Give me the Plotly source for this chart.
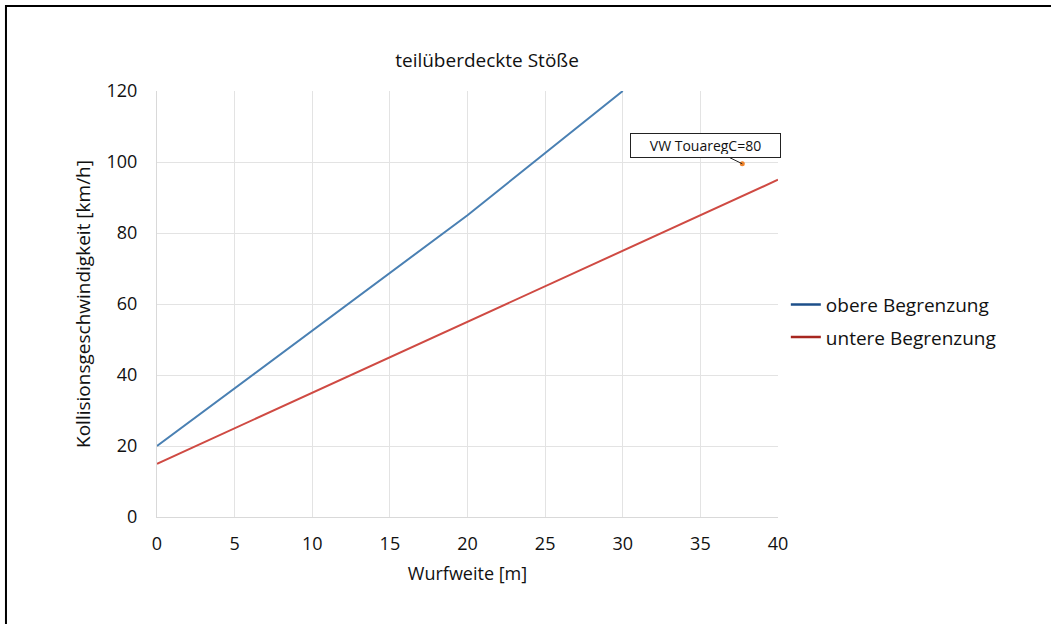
import plotly.graph_objects as go

# Data
upper_x = [0, 20, 30]
upper_y = [20, 85, 120]
lower_x = [0, 40]
lower_y = [15, 95]
point_x = [37.7]
point_y = [99.5]
point_label = "VW TouaregC=80"

FONT = "Open Sans"

fig = go.Figure()
fig.add_trace(go.Scatter(x=upper_x, y=upper_y, mode="lines", line=dict(color="#4a80b3", width=2),
                         showlegend=False, hoverinfo="skip"))
fig.add_trace(go.Scatter(x=lower_x, y=lower_y, mode="lines", line=dict(color="#cf4a43", width=2),
                         showlegend=False, hoverinfo="skip"))
fig.add_trace(go.Scatter(x=point_x, y=point_y, mode="markers", marker=dict(color="#f0852e", size=5),
                         showlegend=False))
# legend entries
fig.add_trace(go.Scatter(x=[None], y=[None], mode="lines", line=dict(color="#1d4f8a", width=2.5),
                         name="obere Begrenzung", legendgroup="a"))
fig.add_trace(go.Scatter(x=[None], y=[None], mode="lines", line=dict(color="#a7261f", width=2.5),
                         name="untere Begrenzung", legendgroup="b"))

fig.add_annotation(x=point_x[0], y=point_y[0], text=point_label, showarrow=True,
                   ax=-37, ay=-18, arrowhead=0, arrowwidth=1, arrowcolor="#222",
                   width=143, height=17,
                   bordercolor="#222", borderwidth=1, borderpad=3, bgcolor="white",
                   font=dict(family=FONT, size=14, color="#111"))

# outer frame
fig.add_shape(type="rect", xref="paper", yref="paper", x0=-0.2432, x1=1.6, y0=-0.6, y1=1.1995,
              line=dict(color="black", width=2), layer="above")

fig.update_layout(
    width=1051, height=624,
    margin=dict(l=157, r=273, t=91, b=107),
    paper_bgcolor="white", plot_bgcolor="white",
    font=dict(family=FONT, color="#111"),
    title=dict(text="teilüberdeckte Stöße", x=487 / 1051, xanchor="center", y=1 - 60 / 624,
               yanchor="middle", font=dict(size=19, color="#111")),
    legend=dict(x=1.0126, y=0.46, xanchor="left", yanchor="middle", font=dict(size=19, color="#111"),
                bgcolor="rgba(0,0,0,0)", tracegroupgap=5, traceorder="grouped"),
    showlegend=True,
)
fig.update_xaxes(range=[0, 40], dtick=5, showgrid=True, gridcolor="#e3e3e3", gridwidth=1,
                 zeroline=False, showline=True, linecolor="#d9d9d9", ticks="",
                 ticklabelstandoff=10,
                 tickfont=dict(size=18, color="#111"),
                 title=dict(text="Wurfweite [m]", font=dict(size=18, color="#111"), standoff=13))
fig.update_yaxes(range=[0, 120], dtick=20, showgrid=True, gridcolor="#e3e3e3", gridwidth=1,
                 zeroline=False, showline=True, linecolor="#d9d9d9", ticks="",
                 ticklabelstandoff=15,
                 tickfont=dict(size=18, color="#111"),
                 title=dict(text="Kollisionsgeschwindigkeit [km/h]", font=dict(size=19, color="#111"), standoff=10))

fig.write_html("out.html", config={"displayModeBar": False},
               post_script="document.body.style.margin='0';")
